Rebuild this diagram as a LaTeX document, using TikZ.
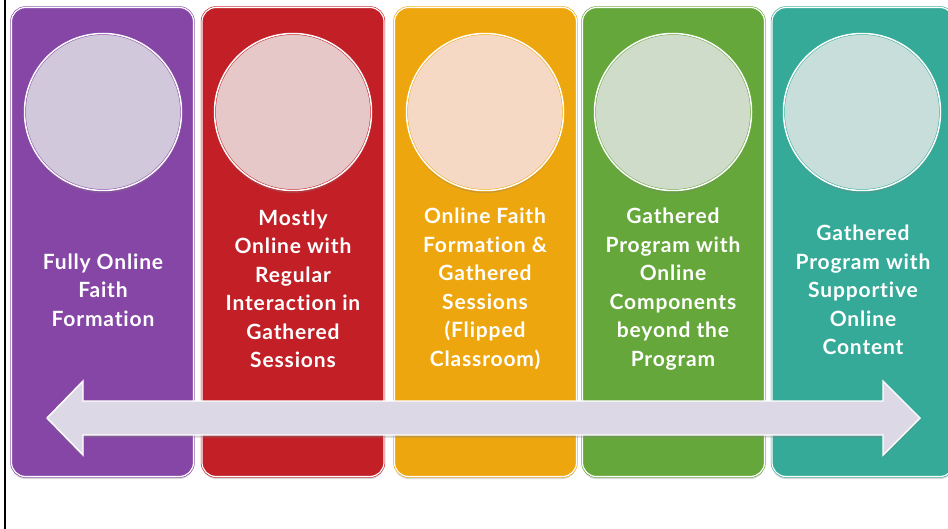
\documentclass[tikz,border=0pt]{standalone}
\usepackage{fontspec}
\setmainfont{Lato}[Ligatures=NoCommon, LetterSpace=4]
\usetikzlibrary{shadows}
\definecolor{pPurple}{HTML}{8646A6}
\definecolor{pRed}{HTML}{C21F26}
\definecolor{pOrange}{HTML}{EEA60F}
\definecolor{pGreen}{HTML}{65A73A}
\definecolor{pTeal}{HTML}{35AA98}
\definecolor{cPurple}{HTML}{D2C8DB}
\definecolor{cRed}{HTML}{E6C8C9}
\definecolor{cOrange}{HTML}{F6D9C4}
\definecolor{cGreen}{HTML}{CFDCCA}
\definecolor{cTeal}{HTML}{C8DEDA}
\definecolor{arrowFill}{HTML}{DCD8E6}
\begin{document}
\begin{tikzpicture}[x=1pt,y=-1pt,font=\fontsize{21}{28.5}\selectfont\bfseries,
  panel/.style={draw=#1, double=white, double distance=1.2pt, line width=0.6pt, fill=#1,
    rounded corners=14pt, minimum width=182pt, minimum height=469pt, inner sep=0pt,
    drop shadow={opacity=0.3, shadow xshift=0pt, shadow yshift=-2.5pt}},
  disc/.style={circle, draw=#1, double=white, double distance=1.5pt, line width=0.5pt,
    minimum size=157pt, inner sep=0pt,
    drop shadow={opacity=0.35, shadow xshift=0pt, shadow yshift=-2.5pt}},
  label/.style={text=white, align=center, inner sep=0pt}]
\useasboundingbox (0,0) rectangle (948,529);

% frame line on the left
\draw[line width=1.3pt] (5,0) -- (5,529);

% columns
\node[panel=pPurple] (p1) at (102.5,242) {};
\node[panel=pRed]    (p2) at (293,242) {};
\node[panel=pOrange] (p3) at (485.5,242) {};
\node[panel=pGreen]  (p4) at (673.5,242) {};
\node[panel=pTeal]   (p5) at (863,242) {};

\node[disc=pPurple, fill=cPurple] (c1) at (103,112) {};
\node[disc=pRed,    fill=cRed]    (c2) at (293,112) {};
\node[disc=pOrange, fill=cOrange] (c3) at (485,112) {};
\node[disc=pGreen,  fill=cGreen]  (c4) at (673,112) {};
\node[disc=pTeal,   fill=cTeal]   (c5) at (862,112) {};

\node[label] (t1) at (103,290) {Fully Online\\Faith\\Formation};
\node[label] (t2) at (293,289) {Mostly\\Online with\\Regular\\Interaction in\\Gathered\\Sessions};
\node[label] (t3) at (485,289) {Online Faith\\Formation \&\\Gathered\\Sessions\\(Flipped\\Classroom)};
\node[label] (t4) at (673,289) {Gathered\\Program with\\Online\\Components\\beyond the\\Program};
\node[label] (t5) at (863,290) {Gathered\\Program with\\Supportive\\Online\\Content};

% double arrow across the columns
\draw[fill=arrowFill, draw=white, line width=1.4pt, line join=miter,
  drop shadow={opacity=0.35, shadow xshift=0pt, shadow yshift=-2.5pt}]
  (47,418) -- (83,381) -- (83,401) -- (883,401) -- (883,381) -- (920,418)
  -- (883,455) -- (883,435) -- (83,435) -- (83,455) -- cycle;

\end{tikzpicture}
\end{document}
